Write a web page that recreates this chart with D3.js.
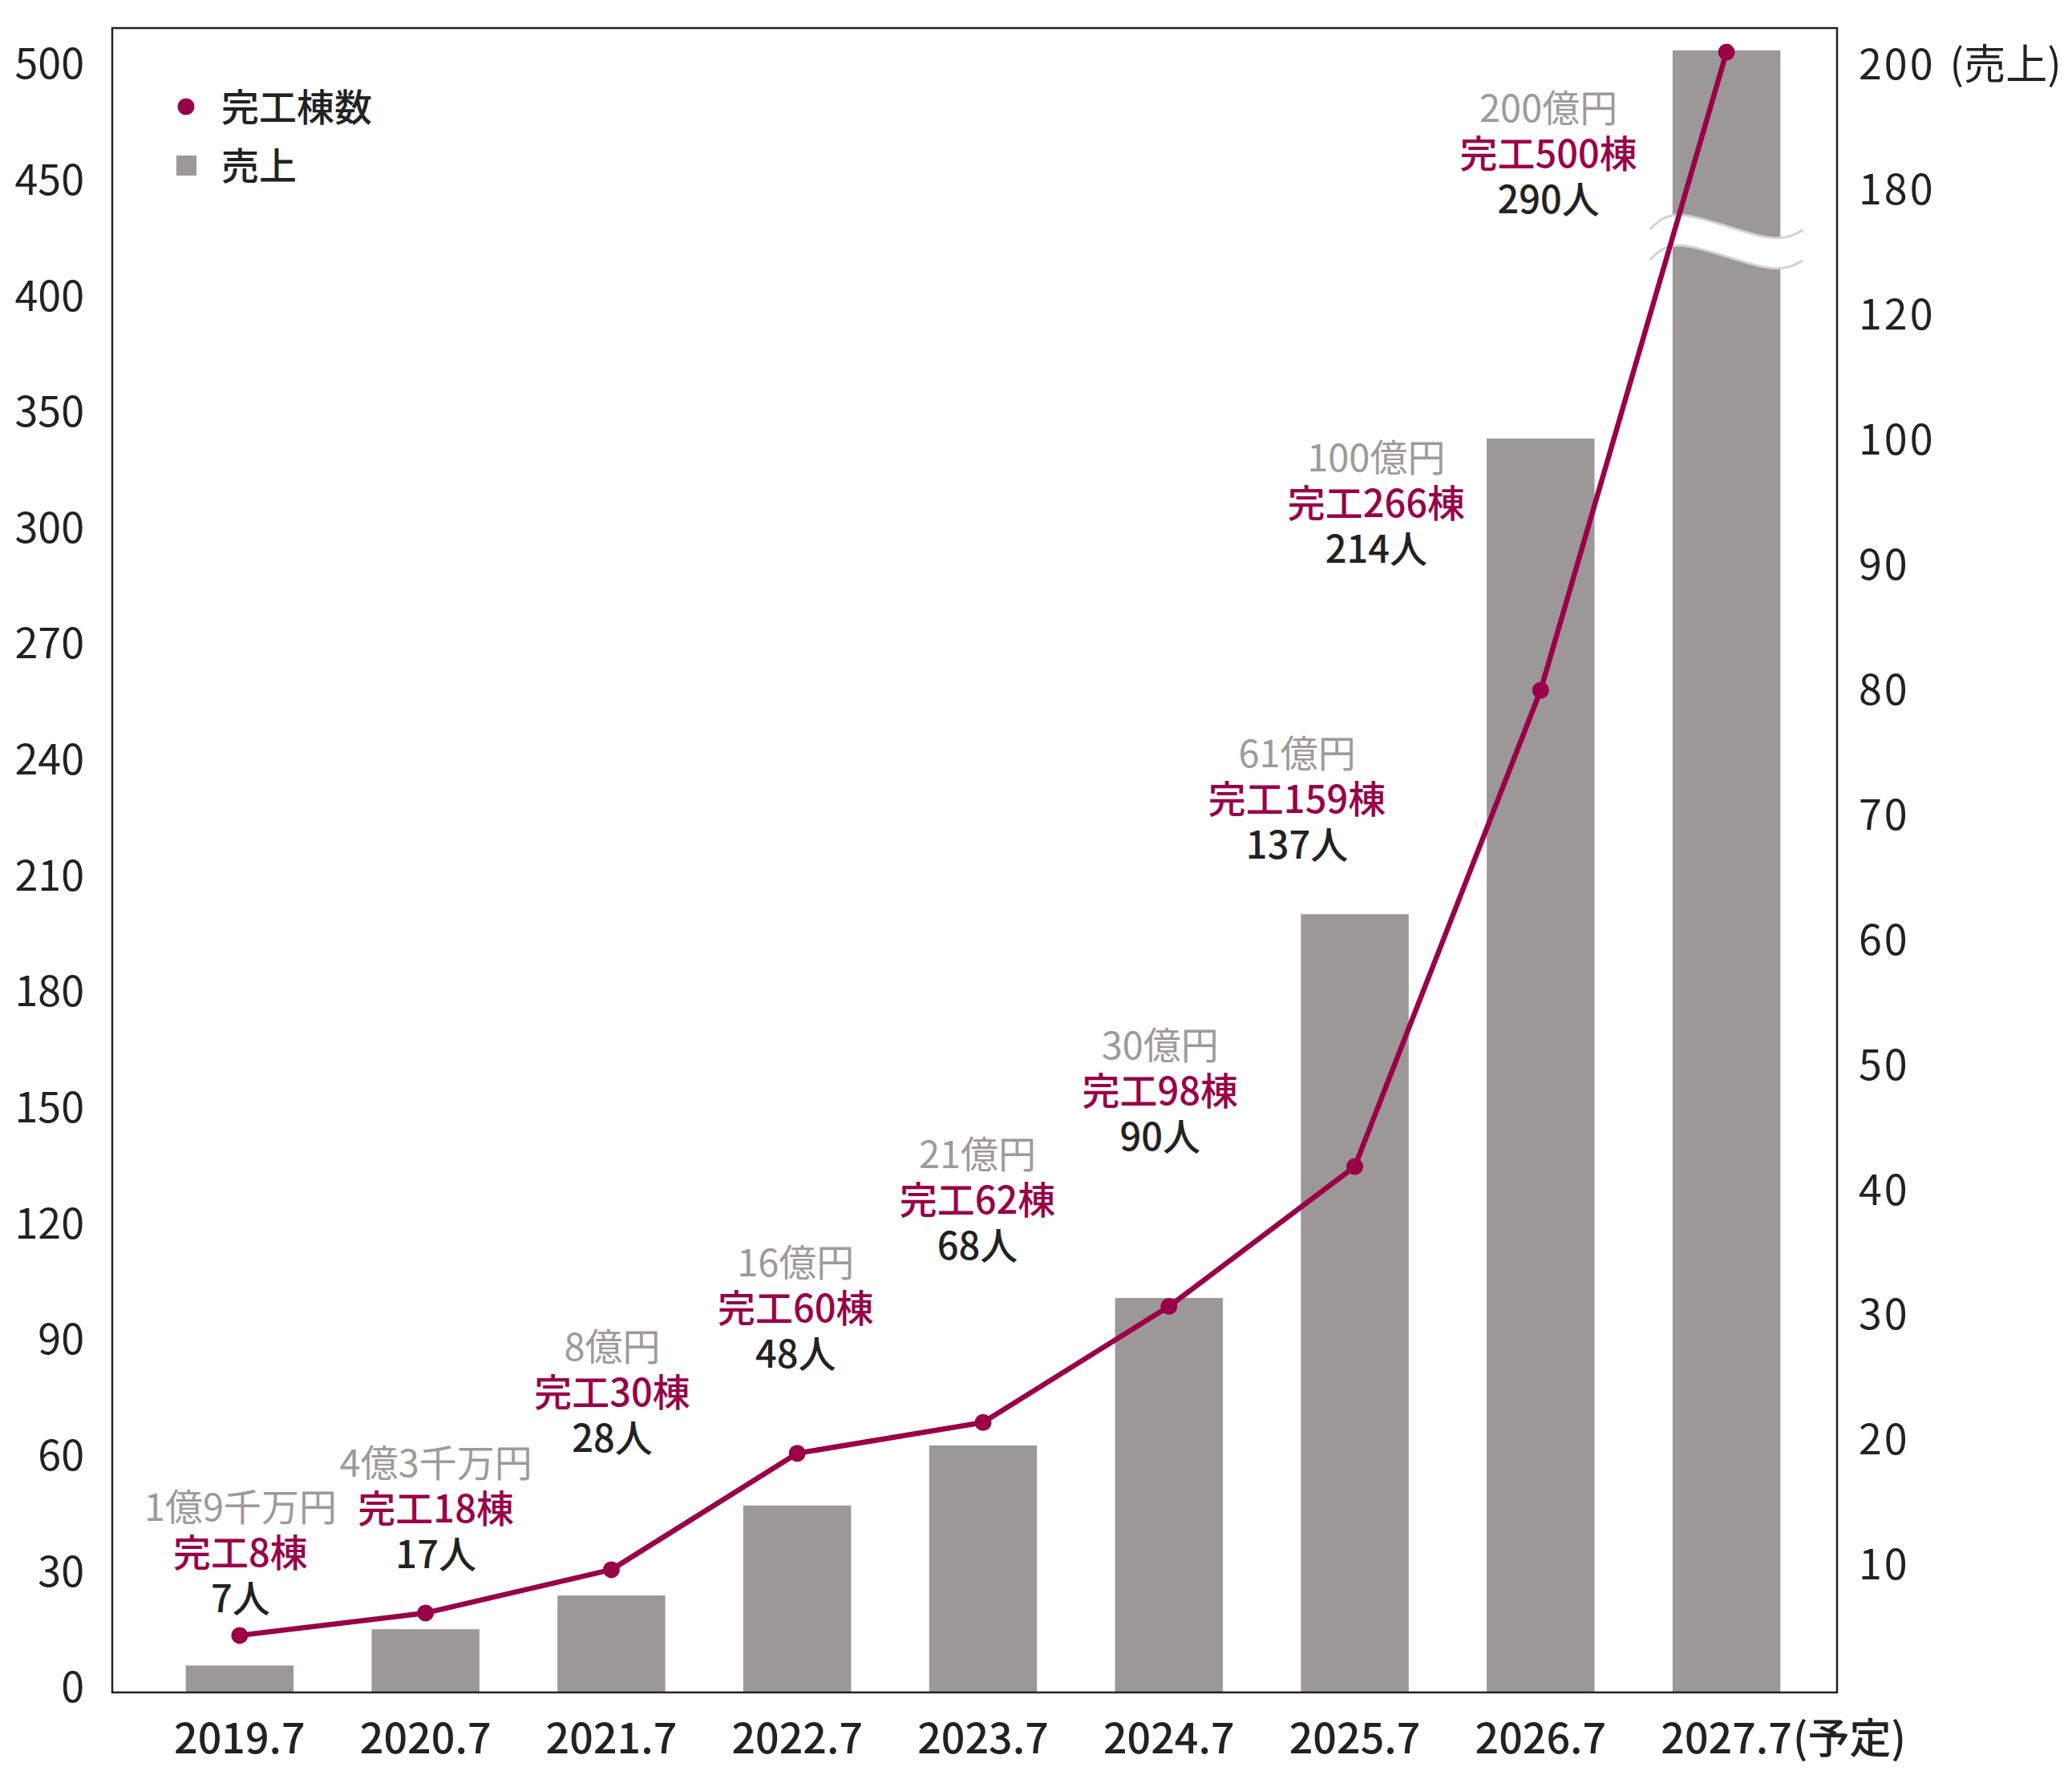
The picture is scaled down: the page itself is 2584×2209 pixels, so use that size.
<!DOCTYPE html>
<html lang="ja">
<head>
<meta charset="utf-8">
<script src="https://cdn.jsdelivr.net/npm/d3@7"></script>
<style>
  html, body { margin: 0; padding: 0; background: #fff; }
  svg { display: block; font-family: "Noto Sans CJK JP", "Noto Sans", sans-serif; }
</style>
</head>
<body>
<div id="chart"></div>
<script>
// 決算期
const periods = ['2019.7', '2020.7', '2021.7', '2022.7', '2023.7', '2024.7', '2025.7', '2026.7', '2027.7'];
// 売上 (億円, right axis), bar heights as drawn in the picture
const sales = [1.9, 4.8, 7.5, 14.7, 19.5, 31.3, 62.0, 100.1, 202.2];
// 完工棟数 (left axis), point heights as drawn in the picture
const completed = [13.3, 19.1, 30.3, 60.4, 68.4, 98.4, 134.6, 257.8, 504.8];

const salesLabels = ['1億9千万円', '4億3千万円', '8億円', '16億円', '21億円', '30億円', '61億円', '100億円', '200億円'];
const completedLabels = ['完工8棟', '完工18棟', '完工30棟', '完工60棟', '完工62棟', '完工98棟', '完工159棟', '完工266棟', '完工500棟'];
const staffLabels = ['7人', '17人', '28人', '48人', '68人', '90人', '137人', '214人', '290人'];

const leftTicks = [0, 30, 60, 90, 120, 150, 180, 210, 240, 270, 300, 350, 400, 450, 500];
const rightTicks = [10, 20, 30, 40, 50, 60, 70, 80, 90, 100, 120, 180, 200];

// where each label block sits: shift from the bar centre (px) and level on the left axis
const noteDx = [1, 13, 1, -2, -7, -11, -72, -205, -222];
const noteLevel = [46.7, 58.1, 88.1, 109.9, 137.9, 166.1, 241.6, 330.3, 481.0];

const COLORS = {
  line: '#9a0048',
  bar: '#9c9897',
  grayText: '#9e9a99',
  text: '#222222',
  breakLine: '#d2d2d2'
};

class ComboChart {

    constructor(opts) {
        this.element = opts.element;
        this.width = opts.width;
        this.height = opts.height;
        this.frame = { left: 140, right: 2291, top: 35, bottom: 2111 };
        this.draw();
    }

    draw() {
        this.element.innerHTML = '';
        this.svg = d3.select(this.element).append('svg')
            .attr('width', this.width)
            .attr('height', this.height);

        this.svg.append('rect')
            .attr('width', this.width).attr('height', this.height)
            .attr('fill', '#fff');

        this.createScales();
        this.addBars();
        this.addFrame();
        this.addBreak();
        this.addLine();
        this.addAxes();
        this.addNotes();
        this.addLegend();
    }

    createScales() {
        this.xScale = d3.scaleBand()
            .domain(periods)
            .range([183, 2269])
            .paddingInner(0.42)
            .paddingOuter(0.21);

        // both axes are broken: every tick gets the same spacing whatever its value
        const evenly = (ticks, bottom, top) =>
            ticks.map((d, i) => bottom + (top - bottom) * i / (ticks.length - 1));

        this.yLeft = d3.scaleLinear()
            .domain(leftTicks)
            .range(evenly(leftTicks, 2104, 79));

        const rightDomain = [0].concat(rightTicks);
        this.yRight = d3.scaleLinear()
            .domain(rightDomain)
            .range(evenly(rightDomain, 2107, 80));
    }

    addFrame() {
        const f = this.frame;
        this.svg.append('rect')
            .attr('x', f.left).attr('y', f.top)
            .attr('width', f.right - f.left)
            .attr('height', f.bottom - f.top)
            .attr('fill', 'none')
            .attr('stroke', COLORS.text)
            .attr('stroke-width', 2.5);
    }

    addBars() {
        const f = this.frame;
        this.svg.append('g')
            .selectAll('rect')
            .data(sales)
            .enter().append('rect')
            .attr('x', (d, i) => this.xScale(periods[i]))
            .attr('width', this.xScale.bandwidth())
            .attr('y', d => this.yRight(d))
            .attr('height', d => f.bottom - this.yRight(d))
            .attr('fill', COLORS.bar);
    }

    addBreak() {
        // wavy cut through the last bar, between 120 and 180
        const last = periods[periods.length - 1];
        const x0 = this.xScale(last) - 28;
        const w = this.xScale.bandwidth() + 56;
        const yc = this.yRight(155);
        const gap = 38;
        const wave = [[0, 4], [0.24, -13], [0.74, 13], [1, 5]];

        const area = d3.area()
            .x(d => x0 + d[0] * w)
            .y0(d => yc - gap / 2 + d[1])
            .y1(d => yc + gap / 2 + d[1])
            .curve(d3.curveNatural);

        const edge = off => d3.line()
            .x(d => x0 + d[0] * w)
            .y(d => yc + off + d[1])
            .curve(d3.curveNatural);

        const g = this.svg.append('g');
        g.append('path').attr('d', area(wave)).attr('fill', '#fff');
        [-gap / 2, gap / 2].forEach(off => {
            g.append('path')
                .attr('d', edge(off)(wave))
                .attr('fill', 'none')
                .attr('stroke', COLORS.breakLine)
                .attr('stroke-width', 3);
        });
    }

    addLine() {
        const cx = i => this.xScale(periods[i]) + this.xScale.bandwidth() / 2;

        const line = d3.line()
            .x((d, i) => cx(i))
            .y(d => this.yLeft(d));

        this.svg.append('path')
            .datum(completed)
            .attr('d', line)
            .attr('fill', 'none')
            .attr('stroke', COLORS.line)
            .attr('stroke-width', 6.5)
            .attr('stroke-linejoin', 'round');

        this.svg.append('g')
            .selectAll('circle')
            .data(completed)
            .enter().append('circle')
            .attr('r', 10.5)
            .attr('cx', (d, i) => cx(i))
            .attr('cy', d => this.yLeft(d))
            .attr('fill', COLORS.line);
    }

    addAxes() {
        const f = this.frame;
        const fontSize = 52;

        const leftAxis = d3.axisLeft(this.yLeft)
            .tickValues(leftTicks)
            .tickSize(0)
            .tickPadding(35);

        const gl = this.svg.append('g')
            .attr('transform', `translate(${f.left},0)`)
            .call(leftAxis)
            .attr('font-family', null)
            .attr('font-size', fontSize);
        gl.select('.domain').remove();
        gl.selectAll('text').attr('dy', '0.36em').attr('fill', COLORS.text);

        const rightAxis = d3.axisRight(this.yRight)
            .tickValues(rightTicks)
            .tickSize(0)
            .tickPadding(27);

        const gr = this.svg.append('g')
            .attr('transform', `translate(${f.right},0)`)
            .call(rightAxis)
            .attr('font-family', null)
            .attr('font-size', fontSize);
        gr.select('.domain').remove();
        gr.selectAll('text')
            .attr('dy', '0.36em')
            .attr('fill', COLORS.text)
            .style('letter-spacing', '3px');

        // unit note next to the top tick
        const topTick = gr.selectAll('.tick').filter(d => d === 200);
        const topLen = topTick.select('text').node().getComputedTextLength();
        topTick.append('text')
            .attr('x', 27 + topLen + 18)
            .attr('dy', '0.36em')
            .attr('text-anchor', 'start')
            .attr('fill', COLORS.text)
            .text('(売上)');

        const xAxis = d3.axisBottom(this.xScale).tickSize(0);

        const gx = this.svg.append('g')
            .attr('transform', `translate(0,${f.bottom})`)
            .call(xAxis)
            .attr('font-family', null)
            .attr('font-size', fontSize);
        gx.select('.domain').remove();
        gx.selectAll('text')
            .attr('y', 76)
            .attr('dy', 0)
            .attr('fill', COLORS.text)
            .attr('font-weight', 500);

        // last period is a forecast
        const lastTick = gx.selectAll('.tick').filter(d => d === periods[periods.length - 1]);
        const lastLen = lastTick.select('text').node().getComputedTextLength();
        lastTick.append('text')
            .attr('x', lastLen / 2 + 1)
            .attr('y', 76)
            .attr('text-anchor', 'start')
            .attr('fill', COLORS.text)
            .attr('font-weight', 500)
            .text('(予定)');
    }

    addNotes() {
        const lineGap = 57;
        const g = this.svg.append('g')
            .attr('text-anchor', 'middle')
            .attr('font-size', 47);

        // one text per period, three lines as tspans
        periods.forEach((p, i) => {
            const cx = this.xScale(p) + this.xScale.bandwidth() / 2 + noteDx[i];
            const cy = this.yLeft(noteLevel[i]) + 0.38 * 47;
            const t = g.append('text').attr('x', cx).attr('y', cy);
            t.append('tspan')
                .attr('x', cx).attr('y', cy)
                .attr('fill', COLORS.grayText)
                .text(salesLabels[i]);
            t.append('tspan')
                .attr('x', cx).attr('y', cy + lineGap)
                .attr('fill', COLORS.line)
                .attr('font-weight', 500)
                .text(completedLabels[i]);
            t.append('tspan')
                .attr('x', cx).attr('y', cy + lineGap * 2)
                .attr('fill', COLORS.text)
                .attr('font-weight', 500)
                .text(staffLabels[i]);
        });
    }

    addLegend() {
        const g = this.svg.append('g')
            .attr('font-size', 47)
            .attr('fill', COLORS.text);

        g.append('circle')
            .attr('cx', 232).attr('cy', 133).attr('r', 10.5)
            .attr('fill', COLORS.line);
        g.append('text')
            .attr('x', 276).attr('y', 133).attr('dy', '0.38em')
            .attr('font-weight', 500)
            .text('完工棟数');

        g.append('rect')
            .attr('x', 220).attr('y', 194).attr('width', 25).attr('height', 25)
            .attr('fill', COLORS.bar);
        g.append('text')
            .attr('x', 276).attr('y', 206).attr('dy', '0.38em')
            .attr('font-weight', 500)
            .text('売上');
    }
}

new ComboChart({
    element: document.getElementById('chart'),
    width: 2584,
    height: 2209
});
</script>
</body>
</html>
